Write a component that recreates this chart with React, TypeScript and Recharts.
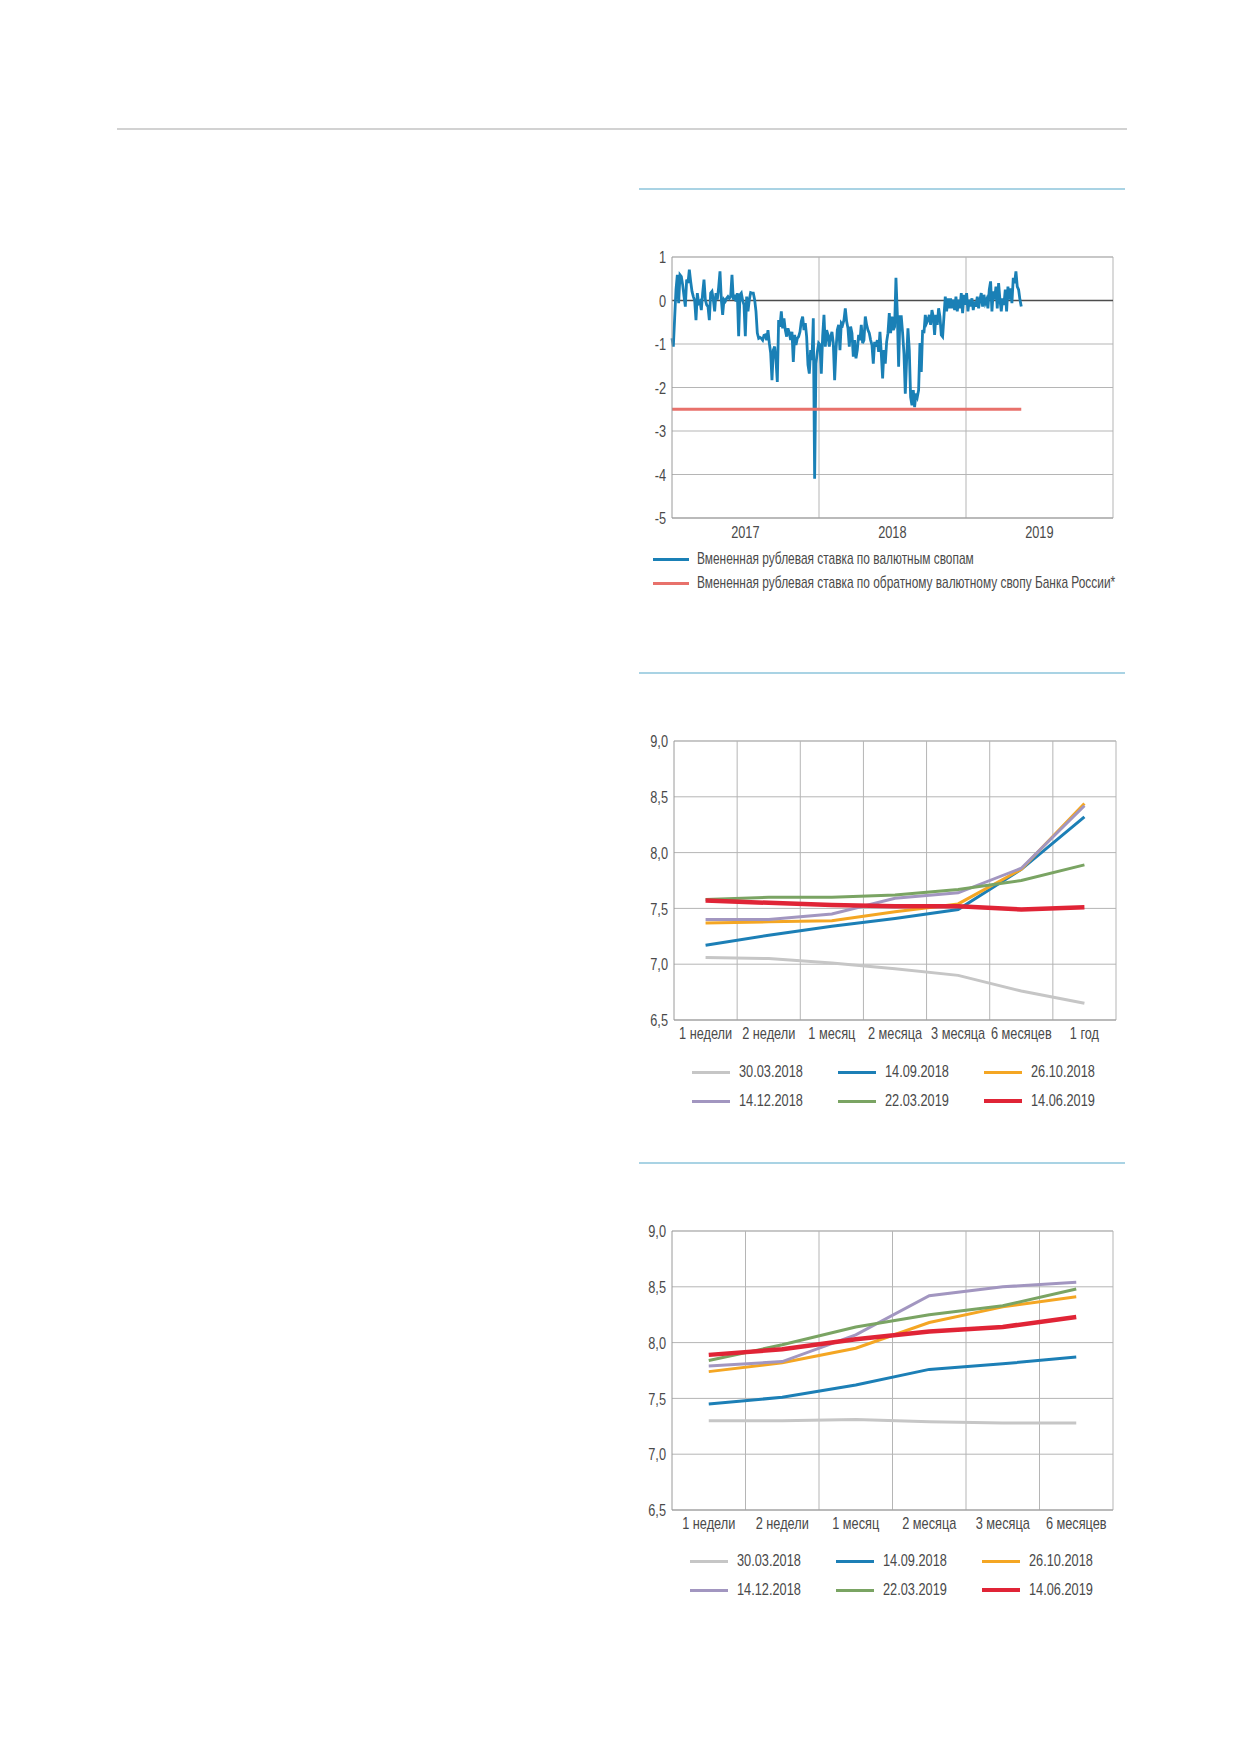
import React from "react";
import { LineChart, Line, XAxis, YAxis, CartesianGrid, ReferenceLine } from "recharts";

const FONT = '"Liberation Sans", Arial, sans-serif';
const SQUEEZE = 0.75; // the original uses a condensed face
const TEXT = "#4a4a4a";
const GRID = "#b5b5b5";
const AXIS = "#9a9a9a";
const DAY = 86400000;

// --- chart 1: implied rouble rate on FX swaps, observations every ~3.3 days from 01.01.2017
const swapStart = Date.UTC(2017, 0, 1);
const swapStepDays = 3.31;
const swapValues = [
  -0.87, -1.06, -0.4, 0.25, 0.59, -0.06, 0.59, 0.55, 0.36, 0.1, -0.14, 0.48, 0.4, 0.71, 0.44, 0.21, 0.09, 0.0,
  -0.45, 0.17, -0.06, -0.02, -0.22, 0.17, 0.48, 0.02, -0.1, -0.14, -0.45, 0.17, 0.21, 0.02, -0.25, 0.17, 0.02,
  0.3, 0.67, 0.02, -0.33, 0.02, -0.02, 0.05, 0.09, 0.05, 0.09, 0.59, 0.02, 0.13, -0.02, 0.17, -0.82, 0.13, 0.17,
  0.0, -0.1, -0.82, 0.09, -0.25, 0.02, 0.18, 0.17, 0.17, 0.02, -0.25, -0.75, -0.87, -0.85, -0.87, -0.91, -0.8,
  -0.79, -0.91, -0.68, -0.98, -1.2, -1.83, -1.14, -1.06, -1.37, -1.87, -0.45, -0.6, -0.25, -0.64, -0.41,
  -0.68, -0.83, -0.64, -0.75, -0.91, -0.72, -1.41, -0.79, -1.02, -0.87, -0.83, -0.72, -0.48, -0.37, -0.68,
  -0.52, -0.83, -1.48, -1.68, -1.14, -1.37, -0.41, -4.1, -1.45, -1.18, -0.98, -1.02, -1.68, -0.83, -0.33,
  -1.06, -0.68, -0.79, -1.06, -0.83, -0.72, -0.98, -1.83, -1.14, -0.68, -0.56, -1.14, -0.52, -0.56, -0.45,
  -0.18, -0.48, -0.64, -1.06, -0.6, -0.75, -1.29, -0.91, -1.33, -1.14, -0.79, -0.91, -0.56, -0.98, -0.91,
  -0.37, -0.56, -0.68, -0.75, -0.91, -1.02, -1.45, -0.95, -1.06, -0.91, -1.18, -0.72, -1.22, -1.79, -1.14,
  -1.45, -0.95, -0.75, -0.29, -0.75, -0.37, -0.68, -0.6, 0.52, -0.29, -1.52, -0.37,
  -0.37, -0.75, -1.22, -2.14, -1.37, -0.64, -1.14, -2.22, -2.41, -2.06, -2.45, -2.14, -2.22, -2.06, -0.98,
  -1.64, -0.68, -0.75, -0.33, -0.52, -0.45, -0.33, -0.56, -0.22, -0.37, -0.79, -0.33, -0.56, -0.18, -0.37,
  -0.79, -0.83, -0.37, 0.09, -0.25, 0.05, -0.18, 0.05, -0.18, 0.02, -0.22, 0.09, -0.25, 0.02, -0.18, 0.17,
  -0.29, 0.13, -0.1, 0.17, -0.25, 0.02, -0.14, 0.05, -0.22, -0.02, -0.14, 0.09, -0.18, 0.02, 0.17, -0.14,
  0.13, -0.06, 0.02, -0.18, 0.25, 0.44, -0.25, 0.21, 0.02, 0.32, -0.18, 0.4, 0.02, -0.25, 0.05, -0.1, 0.25,
  -0.25, 0.32, 0.02, 0.28, -0.06, 0.52, 0.4, 0.67, 0.32, 0.25, 0.02, -0.14,
];
const cbrSwapRate = -2.5;
const swapYears = [2017, 2018, 2019];
const swapYTicks = [-5, -4, -3, -2, -1, 0, 1];
const swapLegend = [
  { label: "Вмененная рублевая ставка по валютным свопам", color: "#1a80b6" },
  { label: "Вмененная рублевая ставка по обратному валютному свопу Банка России*", color: "#e8716b" },
];

// --- chart 2 and 3: curves by date
const curveDates = ["30.03.2018", "14.09.2018", "26.10.2018", "14.12.2018", "22.03.2019", "14.06.2019"];
const curveColors = ["#c6c6c6", "#1c7fb6", "#f4a623", "#a296c0", "#7aa463", "#e02436"];
const curveWidths = [3, 3, 3, 3, 3, 4.5];

const tenorsYear = ["1 недели", "2 недели", "1 месяц", "2 месяца", "3 месяца", "6 месяцев", "1 год"];
const top30Mar2018 = [7.06, 7.05, 7.01, 6.96, 6.9, 6.76, 6.65];
const top14Sep2018 = [7.17, 7.26, 7.34, 7.41, 7.49, 7.85, 8.32];
const top26Oct2018 = [7.37, 7.38, 7.39, 7.47, 7.54, 7.85, 8.44];
const top14Dec2018 = [7.4, 7.4, 7.45, 7.59, 7.64, 7.86, 8.42];
const top22Mar2019 = [7.58, 7.6, 7.6, 7.62, 7.67, 7.75, 7.89];
const top14Jun2019 = [7.57, 7.55, 7.53, 7.52, 7.52, 7.49, 7.51];

const tenorsHalf = ["1 недели", "2 недели", "1 месяц", "2 месяца", "3 месяца", "6 месяцев"];
const low30Mar2018 = [7.3, 7.3, 7.31, 7.29, 7.28, 7.28];
const low14Sep2018 = [7.45, 7.51, 7.62, 7.76, 7.81, 7.87];
const low26Oct2018 = [7.74, 7.82, 7.95, 8.18, 8.32, 8.41];
const low14Dec2018 = [7.79, 7.83, 8.07, 8.42, 8.5, 8.54];
const low22Mar2019 = [7.84, 7.98, 8.14, 8.25, 8.33, 8.48];
const low14Jun2019 = [7.89, 7.94, 8.03, 8.1, 8.14, 8.23];

const rateTicks = [6.5, 7, 7.5, 8, 8.5, 9];

const comma = (v: number) => v.toFixed(1).replace(".", ",");
const yearOf = (t: number) => String(new Date(t).getUTCFullYear());

// squeezed tick label, keeps Recharts' own tick position
function NarrowTick({ x, y, payload, textAnchor, format, vertical }: any) {
  return (
    <g transform={`translate(${x},${y})`}>
      <text
        transform={`scale(${SQUEEZE},1)`}
        textAnchor={textAnchor}
        dy={vertical ? "0.36em" : "0.72em"}
        fill={TEXT}
        fontSize={17}
        fontFamily={FONT}
      >
        {format(payload.value)}
      </text>
    </g>
  );
}

function SwapChart() {
  const rows = swapValues.map((v, i) => ({
    t: swapStart + i * swapStepDays * DAY,
    swap: v,
    cbr: cbrSwapRate,
  }));
  return (
    <LineChart width={530} height={312} data={rows} margin={{ top: 17, right: 17, bottom: 12, left: 0 }}>
      <CartesianGrid vertical={false} stroke={GRID} />
      <XAxis
        type="number"
        dataKey="t"
        domain={[Date.UTC(2017, 0, 1), Date.UTC(2020, 0, 1)]}
        ticks={swapYears.map((y) => Date.UTC(y, 6, 2))}
        height={22}
        tickSize={4}
        tickMargin={4}
        tickLine={false}
        axisLine={{ stroke: AXIS }}
        tick={<NarrowTick format={yearOf} />}
      />
      <YAxis
        type="number"
        domain={[-5, 1]}
        ticks={swapYTicks}
        width={72}
        tickSize={4}
        tickMargin={2}
        tickLine={false}
        axisLine={{ stroke: AXIS }}
        tick={<NarrowTick format={String} vertical />}
      />
      {[2018, 2019, 2020].map((y) => (
        <ReferenceLine key={y} x={Date.UTC(y, 0, 1)} stroke={GRID} />
      ))}
      <ReferenceLine y={1} stroke={GRID} />
      <ReferenceLine y={0} stroke="#4d4d4d" strokeWidth={1.5} />
      <Line dataKey="swap" stroke={swapLegend[0].color} strokeWidth={2.8} dot={false} isAnimationActive={false} />
      <Line dataKey="cbr" stroke={swapLegend[1].color} strokeWidth={3} dot={false} isAnimationActive={false} />
    </LineChart>
  );
}

function CurveChart({ tenors, series, width, height, margin, yWidth }: any) {
  const rows = tenors.map((tenor: string, i: number) => {
    const row: any = { idx: i, tenor };
    series.forEach((s: number[], k: number) => (row["s" + k] = s[i]));
    return row;
  });
  const n = tenors.length;
  return (
    <LineChart width={width} height={height} data={rows} margin={margin}>
      <CartesianGrid vertical={false} stroke={GRID} />
      <XAxis
        type="number"
        dataKey="idx"
        domain={[-0.5, n - 0.5]}
        ticks={tenors.map((_: string, i: number) => i)}
        interval={0}
        height={30}
        tickSize={4}
        tickMargin={3}
        tickLine={false}
        axisLine={{ stroke: AXIS }}
        tick={<NarrowTick format={(i: number) => tenors[i]} />}
      />
      <YAxis
        type="number"
        domain={[6.5, 9]}
        ticks={rateTicks}
        width={yWidth}
        tickSize={4}
        tickMargin={2}
        tickLine={false}
        axisLine={{ stroke: AXIS }}
        tick={<NarrowTick format={comma} vertical />}
      />
      {tenors.map((_: string, i: number) => (
        <ReferenceLine key={i} x={i + 0.5} stroke={GRID} />
      ))}
      <ReferenceLine y={9} stroke={GRID} />
      {series.map((_: number[], k: number) => (
        <Line
          key={k}
          dataKey={"s" + k}
          stroke={curveColors[k]}
          strokeWidth={curveWidths[k]}
          dot={false}
          isAnimationActive={false}
        />
      ))}
    </LineChart>
  );
}

function Swatch({ x, y, color, thick, label, w = 38, gap = 9, squeeze = SQUEEZE }: any) {
  return (
    <div
      style={{
        position: "absolute",
        left: x,
        top: y - 11,
        height: 22,
        display: "flex",
        alignItems: "center",
        whiteSpace: "nowrap",
        fontSize: 17,
        color: TEXT,
      }}
    >
      <span style={{ display: "inline-block", width: w, height: thick, background: color, marginRight: gap }} />
      <span style={{ display: "inline-block", transform: `scaleX(${squeeze})`, transformOrigin: "left center" }}>
        {label}
      </span>
    </div>
  );
}

function CurveLegend({ x, y }: { x: number; y: number }) {
  return (
    <>
      {curveDates.map((d, k) => (
        <Swatch
          key={d}
          x={x + (k % 3) * 146}
          y={y + Math.floor(k / 3) * 29}
          color={curveColors[k]}
          thick={k === 5 ? 4.5 : 3}
          label={d}
        />
      ))}
    </>
  );
}

const rule = (top: number, left: number, width: number, color: string, h = 1.5) => (
  <div style={{ position: "absolute", top, left, width, height: h, background: color }} />
);

export default function App() {
  return (
    <div
      style={{
        position: "absolute",
        left: 0,
        top: 0,
        width: 1239,
        height: 1752,
        background: "#fff",
        fontFamily: FONT,
      }}
    >
      {rule(128, 117, 1010, "#d2d2d2", 2)}
      {rule(188, 639, 486, "#a9d3e4")}
      {rule(672, 639, 486, "#a9d3e4")}
      {rule(1162, 639, 486, "#a9d3e4")}

      <div style={{ position: "absolute", left: 600, top: 240 }}>
        <SwapChart />
      </div>
      {swapLegend.map((s, k) => (
        <Swatch
          key={k}
          x={653}
          y={559 + k * 24}
          color={s.color}
          thick={3}
          label={s.label}
          w={36}
          gap={8}
          squeeze={0.7}
        />
      ))}

      <div style={{ position: "absolute", left: 600, top: 720 }}>
        <CurveChart
          tenors={tenorsYear}
          series={[top30Mar2018, top14Sep2018, top26Oct2018, top14Dec2018, top22Mar2019, top14Jun2019]}
          width={530}
          height={330}
          margin={{ top: 21, right: 14, bottom: 0, left: 0 }}
          yWidth={74}
        />
      </div>
      <CurveLegend x={692} y={1072} />

      <div style={{ position: "absolute", left: 600, top: 1210 }}>
        <CurveChart
          tenors={tenorsHalf}
          series={[low30Mar2018, low14Sep2018, low26Oct2018, low14Dec2018, low22Mar2019, low14Jun2019]}
          width={530}
          height={330}
          margin={{ top: 21, right: 17, bottom: 0, left: 0 }}
          yWidth={72}
        />
      </div>
      <CurveLegend x={690} y={1561} />
    </div>
  );
}
